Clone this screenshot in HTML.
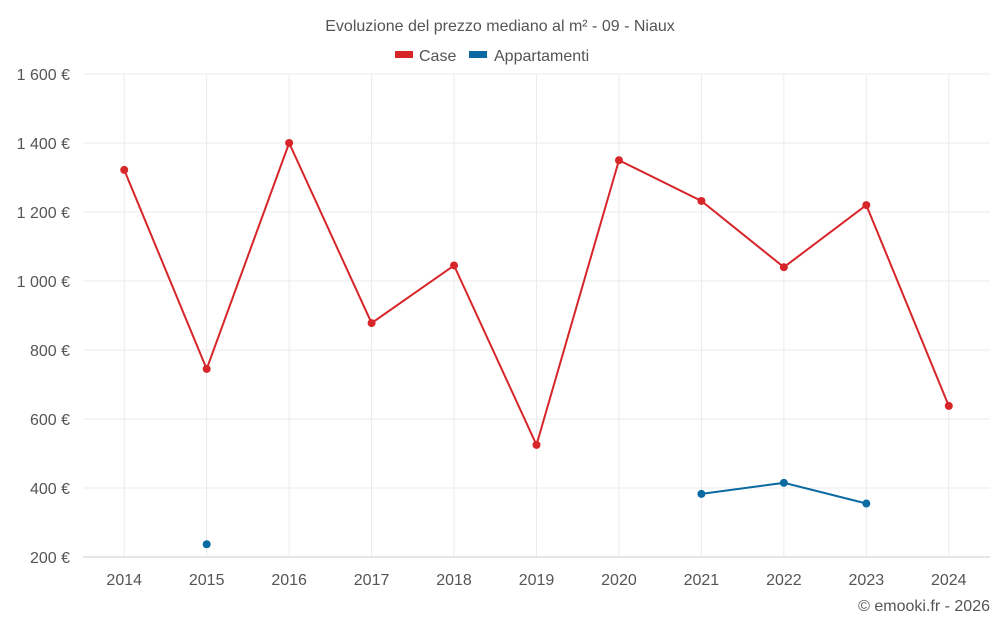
<!DOCTYPE html>
<html><head><meta charset="utf-8"><style>
body{margin:0;background:#fff;font-family:"Liberation Sans",sans-serif;}
svg text{font-family:"Liberation Sans",sans-serif;}
</style></head><body>
<svg id="chart" width="1000" height="625" xmlns="http://www.w3.org/2000/svg">
<text x="500" y="31" text-anchor="middle" font-size="16" fill="#555">Evoluzione del prezzo mediano al m² - 09 - Niaux</text>
<g>
<g><rect x="395" y="51" width="18" height="7" fill="#d7262a"/><text x="419" y="61" font-size="16" fill="#555">Case</text></g>
<g><rect x="469" y="51" width="18" height="7" fill="#0a6aa1"/><text x="494" y="61" font-size="16" fill="#555">Appartamenti</text></g>
</g>
<g id="grid"></g><g id="axes"></g><g id="series"></g>
<text x="990" y="611" text-anchor="end" font-size="16" fill="#555">© emooki.fr - 2026</text>
</svg>
<script>
const years=[2014,2015,2016,2017,2018,2019,2020,2021,2022,2023,2024];
const caseValues=[1322,745,1400,878,1045,525,1350,1232,1040,1220,638];
const appValues=[null,237,null,null,null,null,null,383,415,355,null];
const yTicks=[200,400,600,800,1000,1200,1400,1600];
const yLabels=["200 €","400 €","600 €","800 €","1 000 €","1 200 €","1 400 €","1 600 €"];
const NS="http://www.w3.org/2000/svg";
const x0=83,x1=990,yTop=74,yBot=557;
const xs=i=>x0+(x1-x0)*(i+0.5)/years.length;
const ys=v=>yBot-(v-200)/(1600-200)*(yBot-yTop);
function mk(tag,attrs,parent){const e=document.createElementNS(NS,tag);for(const k in attrs)e.setAttribute(k,attrs[k]);parent.appendChild(e);return e;}
const grid=document.getElementById('grid'),axes=document.getElementById('axes'),ser=document.getElementById('series');
yTicks.forEach((t,i)=>{
 const l=mk('line',{x1:x0,x2:x1,y1:ys(t),y2:ys(t),stroke:i==0?'#ccc':'#ebebeb'},grid);
 
 
 const tx=mk('text',{x:70,y:ys(t)+6,'text-anchor':'end','font-size':16,fill:'#555'},axes);
 tx.textContent=yLabels[i];
 
 
});
years.forEach((y,i)=>{
 const l=mk('line',{x1:xs(i),x2:xs(i),y1:yTop,y2:yBot,stroke:'#ebebeb'},grid);
 
 
 const tx=mk('text',{x:xs(i),y:585,'text-anchor':'middle','font-size':16,fill:'#555'},axes);
 tx.textContent=y;
 
 
});
function draw(vals,color,name){
 let segs=[],cur=[];
 vals.forEach((v,i)=>{if(v==null){if(cur.length)segs.push(cur);cur=[];}else cur.push([xs(i),ys(v)]);});
 if(cur.length)segs.push(cur);
 segs.forEach(s=>{if(s.length>1){const p=mk('polyline',{points:s.map(q=>q.join(',')).join(' '),fill:'none',stroke:color,'stroke-width':2},ser);
 
 }});
 vals.forEach((v,i)=>{if(v==null)return;const c=mk('circle',{cx:xs(i),cy:ys(v),r:4,fill:color},ser);
 
 });
}
draw(caseValues,'#d7262a','case');
draw(appValues,'#0a6aa1','appartamenti');
</script>
</body></html>
